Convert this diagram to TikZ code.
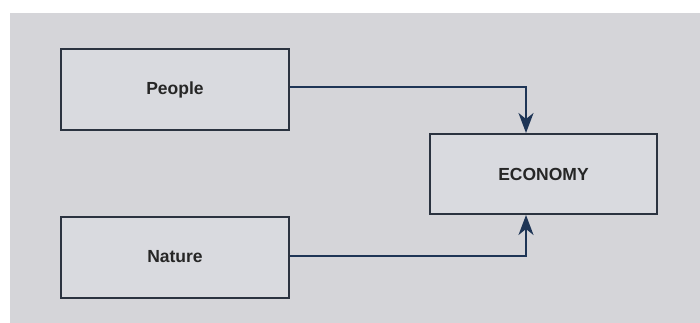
\documentclass[tikz,border=0pt]{standalone}
\usepackage{fontspec}
\setmainfont{Liberation Sans}
\usetikzlibrary{arrows.meta}
\definecolor{panel}{HTML}{D5D5D9}
\definecolor{boxfill}{HTML}{D9DADF}
\definecolor{boxline}{HTML}{2B3340}
\definecolor{flow}{HTML}{1E3556}
\begin{document}
\begin{tikzpicture}[x=1pt,y=-1pt,
  block/.style={draw=boxline,line width=2pt,fill=boxfill,minimum width=228pt,minimum height=81pt,
    font=\fontsize{17.5}{20}\selectfont\bfseries,text=black!85,inner sep=0pt},
  link/.style={draw=flow,line width=2pt,-{Stealth[length=20pt,width=15pt,inset=6pt]}}]
  \useasboundingbox (0,0) rectangle (700,323);
  \fill[white] (0,0) rectangle (700,323);
  \fill[panel] (10,13) rectangle (700,323);
  \node[block] (people) at (175,89.5) {People};
  \node[block] (nature) at (175,257) {Nature};
  \node[block,minimum width=227pt,minimum height=80pt] (economy) at (543.5,174) {ECONOMY};
  \coordinate (ptop) at (526,87);
  \coordinate (nbot) at (526,256);
  \draw[link] (people.east |- ptop) -| (economy.north -| ptop);
  \draw[link] (nature.east |- nbot) -| (economy.south -| nbot);
\end{tikzpicture}
\end{document}
